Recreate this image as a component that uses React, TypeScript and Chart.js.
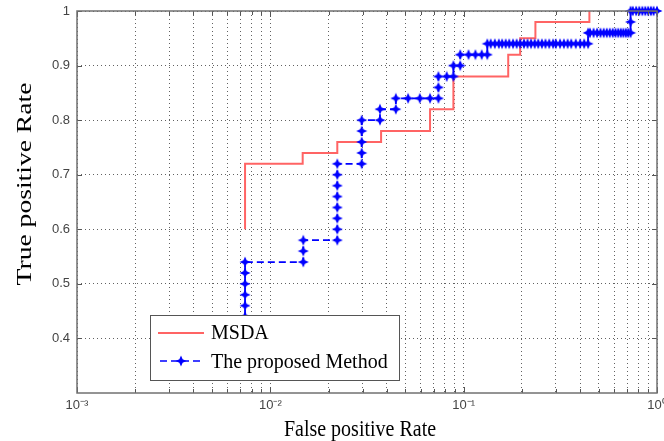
import React, { useEffect, useRef } from "react";
import { Chart, registerables } from "chart.js";

Chart.register(...registerables);

// ---- data ----
const msdaFpr = [0.0074, 0.0074, 0.0147, 0.0147, 0.0222, 0.0222, 0.0374, 0.0374, 0.067, 0.067, 0.0885, 0.0885, 0.17, 0.17, 0.196, 0.196, 0.235, 0.235, 0.447, 0.447];
const msdaTpr = [0.6, 0.72, 0.72, 0.74, 0.74, 0.76, 0.76, 0.78, 0.78, 0.82, 0.82, 0.88, 0.88, 0.92, 0.92, 0.95, 0.95, 0.98, 0.98, 1.0];

const proposedFpr = [
  0.0074, 0.0074, 0.0074, 0.0074, 0.0074, 0.0074, 0.0074, 0.0074, 0.0074, 0.0074,
  0.0148, 0.0148, 0.0148,
  0.0222, 0.0222, 0.0222, 0.0222, 0.0222, 0.0222, 0.0222, 0.0222,
  0.0297, 0.0297, 0.0297, 0.0297, 0.0297,
  0.0369, 0.0369,
  0.0446, 0.0446,
  0.0516, 0.0593, 0.067, 0.074, 0.074, 0.074,
  0.0817, 0.0885, 0.0885,
  0.096, 0.096,
  0.106, 0.115, 0.124, 0.1325, 0.1325,
  0.138, 0.145, 0.152, 0.158, 0.165, 0.172, 0.18, 0.188, 0.196, 0.205, 0.214, 0.223, 0.233, 0.243, 0.254, 0.265, 0.277, 0.29, 0.3, 0.315, 0.33, 0.345, 0.36, 0.38, 0.4, 0.42, 0.44,
  0.44, 0.45, 0.47, 0.49, 0.51, 0.53, 0.55, 0.57, 0.59, 0.61, 0.63, 0.65, 0.67, 0.69, 0.71, 0.73,
  0.73, 0.73, 0.75, 0.78, 0.81, 0.84, 0.87, 0.9, 0.93, 0.96, 1.0,
];
const proposedTpr = [
  0.36, 0.38, 0.4, 0.42, 0.44, 0.46, 0.48, 0.5, 0.52, 0.54,
  0.54, 0.56, 0.58,
  0.58, 0.6, 0.62, 0.64, 0.66, 0.68, 0.7, 0.72,
  0.72, 0.74, 0.76, 0.78, 0.8,
  0.8, 0.82,
  0.82, 0.84,
  0.84, 0.84, 0.84, 0.84, 0.86, 0.88,
  0.88, 0.88, 0.9,
  0.9, 0.92,
  0.92, 0.92, 0.92, 0.92, 0.94,
  0.94, 0.94, 0.94, 0.94, 0.94, 0.94, 0.94, 0.94, 0.94, 0.94, 0.94, 0.94, 0.94, 0.94, 0.94, 0.94, 0.94, 0.94, 0.94, 0.94, 0.94, 0.94, 0.94, 0.94, 0.94, 0.94, 0.94,
  0.96, 0.96, 0.96, 0.96, 0.96, 0.96, 0.96, 0.96, 0.96, 0.96, 0.96, 0.96, 0.96, 0.96, 0.96, 0.96,
  0.98, 1.0, 1.0, 1.0, 1.0, 1.0, 1.0, 1.0, 1.0, 1.0, 1.0,
];

const xMajorTicks = [0.001, 0.01, 0.1, 1];
const xTickLabels = ["10\u207B\u00B3", "10\u207B\u00B2", "10\u207B\u00B9", "10\u2070"];
const yTicks = [0.4, 0.5, 0.6, 0.7, 0.8, 0.9, 1.0];
const yTickLabels = ["0.4", "0.5", "0.6", "0.7", "0.8", "0.9", "1"];

const seriesNames = ["MSDA", "The proposed Method"];
const xTitle = "False positive Rate";
const yTitle = "True positive Rate";

function makeStar(color: string): HTMLCanvasElement {
  const c = document.createElement("canvas");
  c.width = 12;
  c.height = 12;
  const g = c.getContext("2d")!;
  const cx = 6, cy = 6, R = 5.5, r = 2.3;
  g.fillStyle = color;
  g.beginPath();
  for (let i = 0; i < 8; i++) {
    const a = (i * Math.PI) / 4 - Math.PI / 2;
    const rad = i % 2 === 0 ? R : r;
    const px = cx + rad * Math.cos(a);
    const py = cy + rad * Math.sin(a);
    if (i === 0) g.moveTo(px, py);
    else g.lineTo(px, py);
  }
  g.closePath();
  g.fill();
  return c;
}

const RED = "#ff6464";
const BLUE = "#0000ff";

export default function App() {
  const ref = useRef<HTMLCanvasElement | null>(null);

  useEffect(() => {
    const canvas = ref.current;
    if (!canvas) return;
    const star = makeStar(BLUE);

    const decorPlugin = {
      id: "decor",
      afterDraw(chart: any) {
        const ctx = chart.ctx as CanvasRenderingContext2D;
        const a = chart.chartArea;
        const xs = chart.scales.x;
        const ys = chart.scales.y;
        ctx.save();
        // small tick marks
        ctx.strokeStyle = "#555";
        ctx.lineWidth = 1;
        ctx.setLineDash([]);
        xs.ticks.forEach((t: any) => {
          const px = Math.round(xs.getPixelForValue(t.value)) + 0.5;
          const isMajor = xMajorTicks.some((v) => Math.abs(v - t.value) < v * 1e-6);
          const len = isMajor ? 6 : 4;
          ctx.beginPath();
          ctx.moveTo(px, a.bottom);
          ctx.lineTo(px, a.bottom - len);
          ctx.moveTo(px, a.top);
          ctx.lineTo(px, a.top + len);
          ctx.stroke();
        });
        yTicks.forEach((v) => {
          const py = Math.round(ys.getPixelForValue(v)) + 0.5;
          ctx.beginPath();
          ctx.moveTo(a.left, py);
          ctx.lineTo(a.left + 5, py);
          ctx.moveTo(a.right, py);
          ctx.lineTo(a.right - 5, py);
          ctx.stroke();
        });
        // box
        ctx.strokeStyle = "#707070";
        ctx.lineWidth = 1.5;
        ctx.strokeRect(a.left, a.top, a.right - a.left, a.bottom - a.top);

        // axis titles
        ctx.fillStyle = "#000";
        ctx.font = '20px "Liberation Serif", "DejaVu Serif", serif';
        ctx.textAlign = "center";
        ctx.textBaseline = "alphabetic";
        ctx.save();
        ctx.translate(360, 436);
        ctx.scale(1, 1.15);
        ctx.fillText(xTitle, 0, 0);
        ctx.restore();

        ctx.save();
        ctx.translate(31, 184);
        ctx.rotate(-Math.PI / 2);
        ctx.scale(1.38, 1.05);
        ctx.fillText(yTitle, 0, 0);
        ctx.restore();

        // legend
        const lx = 150, ly = 315, lw = 249, lh = 65;
        ctx.fillStyle = "#fff";
        ctx.fillRect(lx, ly, lw, lh);
        ctx.strokeStyle = "#555";
        ctx.lineWidth = 1;
        ctx.strokeRect(lx + 0.5, ly + 0.5, lw, lh);

        ctx.lineWidth = 2;
        ctx.strokeStyle = RED;
        ctx.beginPath();
        ctx.moveTo(158, 333);
        ctx.lineTo(204, 333);
        ctx.stroke();

        ctx.strokeStyle = BLUE;
        ctx.lineWidth = 1.5;
        ctx.setLineDash([7, 4]);
        ctx.beginPath();
        ctx.moveTo(160, 361);
        ctx.lineTo(204, 361);
        ctx.stroke();
        ctx.setLineDash([]);
        ctx.drawImage(star, 181 - star.width / 2, 361 - star.height / 2);

        ctx.fillStyle = "#000";
        ctx.textAlign = "left";
        ctx.font = '20px "Liberation Serif", "DejaVu Serif", serif';
        ctx.save();
        ctx.translate(211, 339);
        ctx.scale(1, 1.1);
        ctx.fillText(seriesNames[0], 0, 0);
        ctx.restore();
        ctx.save();
        ctx.translate(211, 368);
        ctx.scale(1, 1.1);
        ctx.fillText(seriesNames[1], 0, 0);
        ctx.restore();
        ctx.restore();
      },
    };

    const chart = new Chart(canvas, {
      type: "scatter",
      data: {
        datasets: [
          {
            label: seriesNames[0],
            data: msdaFpr.map((x, i) => ({ x, y: msdaTpr[i] })),
            showLine: true,
            borderColor: RED,
            borderWidth: 2,
            pointRadius: 0,
            order: 1,
            clip: 3,
          },
          {
            label: seriesNames[1],
            data: proposedFpr.map((x, i) => ({ x, y: proposedTpr[i] })),
            showLine: true,
            borderColor: BLUE,
            backgroundColor: BLUE,
            borderWidth: 1.8,
            borderDash: [7, 4],
            pointStyle: star,
            pointRadius: 4,
            order: 0,
            clip: 6,
          },
        ],
      },
      options: {
        responsive: false,
        animation: false,
        devicePixelRatio: 1,
        layout: { padding: { top: 11, right: 7, left: 0, bottom: 0 } },
        plugins: { legend: { display: false }, tooltip: { enabled: false } },
        scales: {
          x: {
            type: "logarithmic",
            min: 0.001,
            max: 1,
            afterBuildTicks: (scale: any) => {
              const t: any[] = [];
              for (const d of xMajorTicks.slice(0, -1)) {
                for (let m = 1; m < 10; m++) t.push({ value: m * d });
              }
              t.push({ value: xMajorTicks[xMajorTicks.length - 1] });
              scale.ticks = t;
            },
            afterFit: (scale: any) => {
              scale.height = 48;
              scale.paddingLeft = 0;
              scale.paddingRight = 0;
            },
            ticks: {
              autoSkip: false,
              maxRotation: 0,
              minRotation: 0,
              padding: 5,
              color: "#444",
              font: { family: '"Liberation Sans", Arial, sans-serif', size: 13 },
              callback: (value: any) => {
                const i = xMajorTicks.findIndex((v) => Math.abs(v - Number(value)) < v * 1e-6);
                return i >= 0 ? xTickLabels[i] : "";
              },
            },
            grid: { color: "rgba(70,70,70,0.85)", lineWidth: 1, drawTicks: false },
            border: { display: false, dash: [1, 3] },
          },
          y: {
            type: "linear",
            min: 0.3,
            max: 1.0,
            afterBuildTicks: (scale: any) => {
              scale.ticks = yTicks.map((v) => ({ value: v }));
            },
            afterFit: (scale: any) => {
              scale.width = 77;
              scale.paddingTop = 0;
              scale.paddingBottom = 0;
            },
            ticks: {
              autoSkip: false,
              padding: 7,
              color: "#444",
              font: { family: '"Liberation Sans", Arial, sans-serif', size: 13 },
              callback: (value: any) => {
                const i = yTicks.findIndex((v) => Math.abs(v - Number(value)) < 1e-6);
                return i >= 0 ? yTickLabels[i] : "";
              },
            },
            grid: { color: "rgba(70,70,70,0.85)", lineWidth: 1, drawTicks: false },
            border: { display: false, dash: [1, 3] },
          },
        },
      },
      plugins: [decorPlugin],
    } as any);

    return () => chart.destroy();
  }, []);

  return (
    <div style={{ position: "fixed", left: 0, top: 0, width: 664, height: 441, background: "#fff" }}>
      <canvas ref={ref} width={664} height={441} style={{ display: "block" }} />
    </div>
  );
}
